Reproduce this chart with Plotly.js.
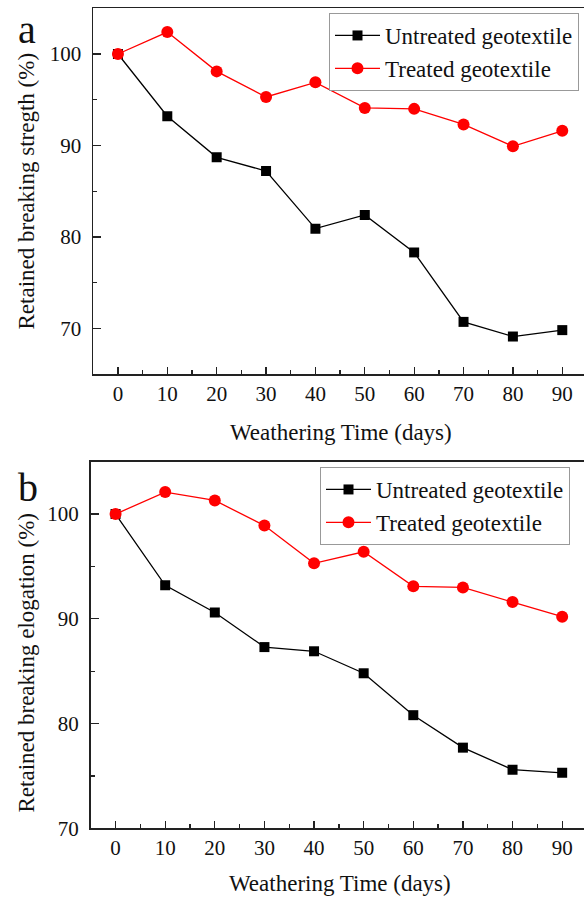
<!DOCTYPE html>
<html>
<head>
<meta charset="utf-8">
<script src="https://cdn.plot.ly/plotly-3.0.1.min.js"></script>
<style>
html,body{margin:0;padding:0;background:#fff;overflow:hidden;}
#chart{width:584px;height:898px;}
</style>
</head>
<body>
<div id="chart"></div>
<script>
// Weathering time (days)
var days = [0, 10, 20, 30, 40, 50, 60, 70, 80, 90];
var xTickVals = [0, 10, 20, 30, 40, 50, 60, 70, 80, 90];
var yTickVals = [70, 80, 90, 100];

// Panel a: retained breaking strength (%)
var strengthUntreated = [100, 93.2, 88.7, 87.2, 80.9, 82.4, 78.3, 70.7, 69.1, 69.8];
var strengthTreated   = [100, 102.4, 98.1, 95.3, 96.9, 94.1, 94.0, 92.3, 89.9, 91.6];

// Panel b: retained breaking elongation (%)
var elongUntreated = [100, 93.2, 90.6, 87.3, 86.9, 84.8, 80.8, 77.7, 75.6, 75.3];
var elongTreated   = [100, 102.1, 101.3, 98.9, 95.3, 96.4, 93.1, 93.0, 91.6, 90.2];

var seriesNames = ["Untreated geotextile", "Treated geotextile"];
var panelLabels = ["a", "b"];
var xTitle = "Weathering Time (days)";
var yTitles = ["Retained breaking stregth (%)", "Retained breaking elogation (%)"];

var FONT = "Liberation Serif, Times New Roman, serif";
var AX = "#222222";
var TXT = "#111111";
var W = 584, H = 898;

function mkTrace(y, name, isTreated, xa, ya, leg) {
  return {
    x: days, y: y, name: name, type: "scatter", mode: "lines+markers",
    xaxis: xa, yaxis: ya, legend: leg,
    line: {color: isTreated ? "#ff0000" : "#000000", width: 1.3},
    marker: isTreated ? {symbol: "circle", size: 12, color: "#ff0000"}
                      : {symbol: "square", size: 10, color: "#000000"}
  };
}

var data = [
  mkTrace(strengthUntreated, seriesNames[0], false, "x", "y", "legend"),
  mkTrace(strengthTreated, seriesNames[1], true, "x", "y", "legend"),
  mkTrace(elongUntreated, seriesNames[0], false, "x2", "y2", "legend2"),
  mkTrace(elongTreated, seriesNames[1], true, "x2", "y2", "legend2")
];

function xAxis(dom, anchor) {
  return {
    domain: dom, anchor: anchor, range: [-5.05, 94.4],
    tickvals: xTickVals, ticks: "inside", ticklen: 7, tickwidth: 1.3, tickcolor: AX,
    minor: {dtick: 5, tick0: 5, ticks: "inside", ticklen: 4, tickwidth: 1.3, tickcolor: AX},
    showline: true, linecolor: AX, linewidth: 1.5, mirror: true,
    showgrid: false, zeroline: false, ticklabelstandoff: 0,
    tickfont: {family: FONT, size: 21, color: TXT}
  };
}
function yAxis(dom, anchor, range) {
  return {
    domain: dom, anchor: anchor, range: range,
    tickvals: yTickVals, ticks: "inside", ticklen: 8, tickwidth: 1.3, tickcolor: AX,
    minor: {dtick: 5, tick0: 65, ticks: "inside", ticklen: 4, tickwidth: 1.3, tickcolor: AX},
    showline: true, linecolor: AX, linewidth: 1.5, mirror: false,
    showgrid: false, zeroline: false, ticklabelstandoff: 6,
    tickfont: {family: FONT, size: 21, color: TXT}
  };
}

var legendStyle = {
  xanchor: "left", yanchor: "top", bgcolor: "#ffffff",
  bordercolor: "#999999", borderwidth: 1,
  font: {family: FONT, size: 23, color: TXT},
  itemwidth: 45
};

function label(txt, x, y) {
  return {text: txt, xref: "paper", yref: "paper", x: x / W, y: 1 - y / H,
          xanchor: "left", yanchor: "top", showarrow: false,
          font: {family: FONT, size: 40, color: TXT}};
}
function axTitle(txt, x, y, angle) {
  return {text: txt, xref: "paper", yref: "paper", x: x / W, y: 1 - y / H,
          xanchor: "center", yanchor: "middle", showarrow: false, textangle: angle,
          font: {family: FONT, size: 23, color: TXT}};
}

var layout = {
  width: W, height: H,
  margin: {l: 0, r: 0, t: 0, b: 0},
  paper_bgcolor: "#ffffff", plot_bgcolor: "#ffffff",
  font: {family: FONT, color: TXT},
  showlegend: true,
  xaxis: xAxis([93 / W, 1], "y"),
  yaxis: yAxis([1 - 374 / H, 1 - 8.3 / H], "x", [65, 105]),
  xaxis2: xAxis([90.5 / W, 1], "y2"),
  yaxis2: yAxis([1 - 828.3 / H, 1 - 461.7 / H], "x2", [70, 105]),
  legend: Object.assign({x: 329 / W, y: 1 - 13 / H}, legendStyle),
  legend2: Object.assign({x: 320 / W, y: 1 - 467 / H}, legendStyle),
  annotations: [
    label(panelLabels[0], 16, 5),
    label(panelLabels[1], 16, 463),
    axTitle(yTitles[0], 26, 191.5, -90),
    axTitle(yTitles[1], 26, 662.5, -90),
    axTitle(xTitle, 341, 432, 0),
    axTitle(xTitle, 340, 883, 0)
  ]
};

Plotly.newPlot("chart", data, layout, {displayModeBar: false, staticPlot: true});
</script>
</body>
</html>
